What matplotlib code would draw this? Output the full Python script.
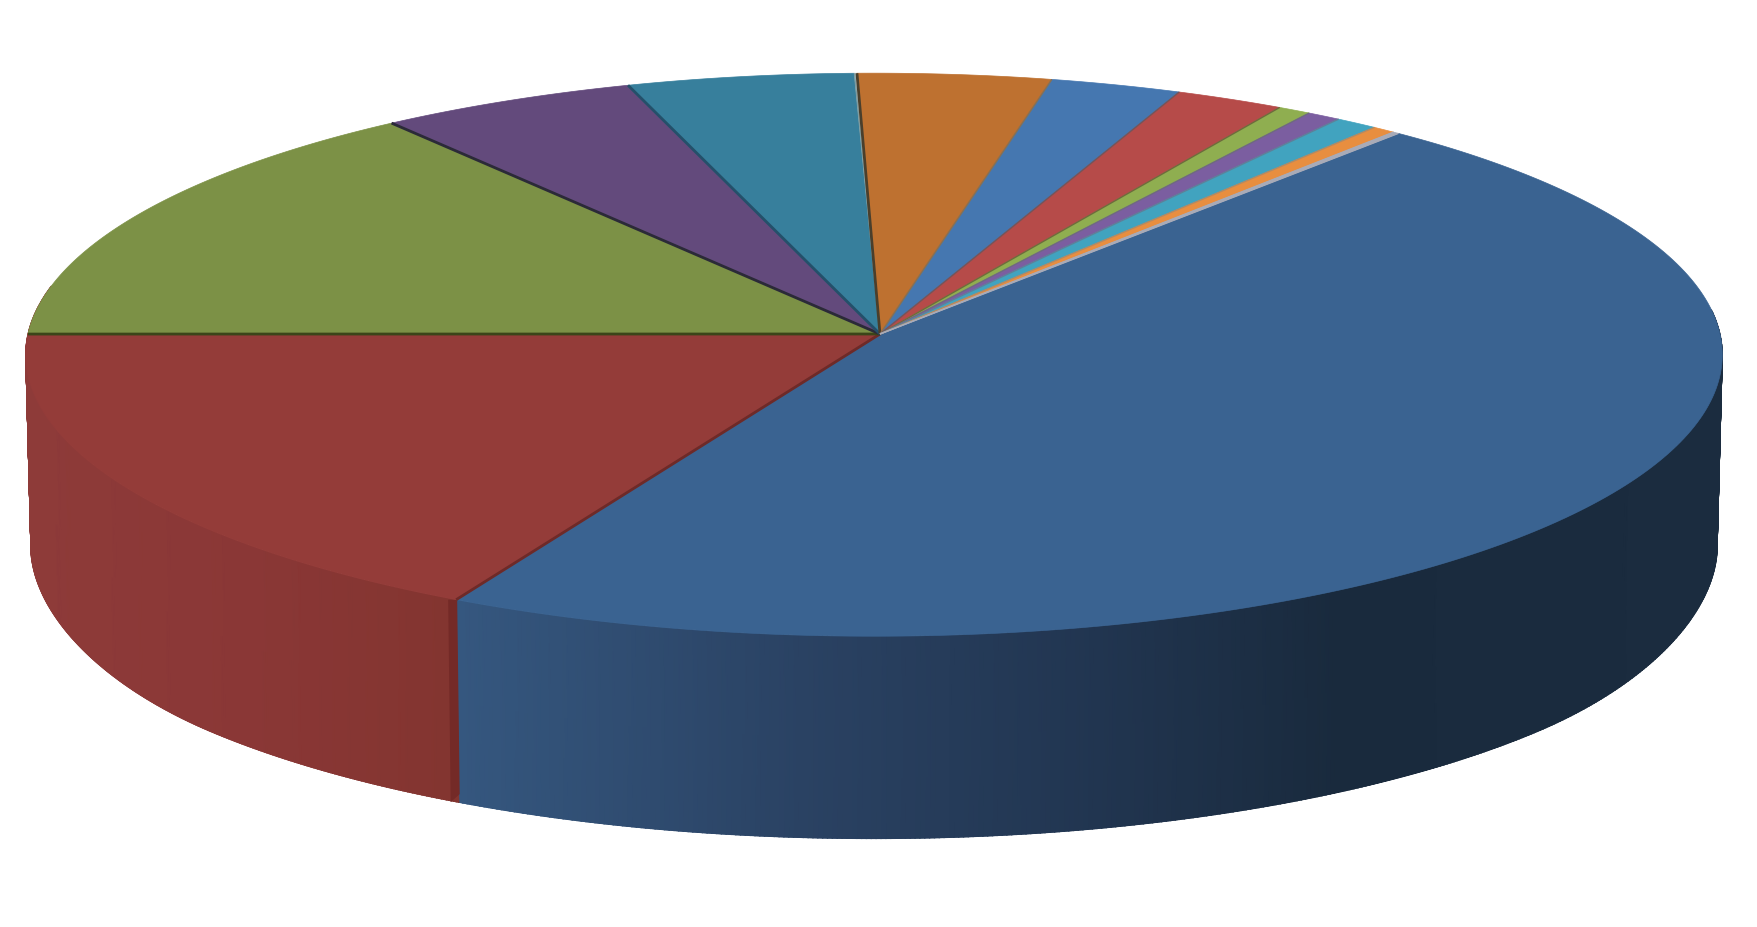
import numpy as np
import matplotlib
matplotlib.use('Agg')
import matplotlib.pyplot as plt
from matplotlib.colors import LinearSegmentedColormap, Normalize

# share of each slice in percent, clockwise from the thin grey one's end
shares = [46.29, 17.36, 14.69, 5.28, 4.64, 0.05, 3.96, 2.68, 2.22, 0.68, 0.69, 0.87, 0.475, 0.12]
top_colors = ['#3a6391', '#943c39', '#7c9146', '#634a7c', '#377f9c', '#b9cdd0', '#be7130',
              '#4577b0', '#b64b49', '#8fae50', '#7b5ea0', '#41a3bf', '#e88e3f', '#a8abb8']
edge_colors = ['#6e2a28', '#3b4519', '#2b2a38', '#24506a', '#7f9ca0', '#4a3f2c', '#8a7050',
               '#74555a', '#6f6a3c', '#6f6a80', '#5f7f99', '#b08a66', '#a8abb8', '#a8abb8']

# colours of the side wall along x
red_x = [30, 250, 450]
red_wall = ['#8e3b39', '#8a3736', '#833530']
blue_x = [458, 800, 1100, 1340, 1723]
blue_wall = ['#35577f', '#2a4263', '#213550', '#192a3d', '#1b2c3f']

start_angle = 40.86
apex = (880, 334)


def project(t, scale=1.0, drop=0.0):
    ## perspective view of the rim, t is degrees clockwise from the back
    t = np.radians(t)
    x, y = np.sin(t), np.cos(t)
    w = 1 + 0.0735 * y
    px = 874 + scale * 846 * x / w
    py = apex[1] + drop - scale * 280 * y / w
    if drop:
        ##the lower rim turns up faster near both sides
        py = py - 14 * (np.clip(np.abs(x) - 0.75, 0, None) / 0.25) ** 2
    return px, py


def draw_wall(ax, t0, t1, xs, cols):
    ts = np.linspace(t0, t1, 400)
    xa, ya = project(ts)
    xb, yb = project(ts, 0.994, 204)
    X = np.vstack([xa, xb])
    Y = np.vstack([ya, yb])
    stops = [(v - xs[0]) / (xs[-1] - xs[0]) for v in xs]
    cmap = LinearSegmentedColormap.from_list('wall', list(zip(stops, cols)))
    norm = Normalize(xs[0], xs[-1])
    ax.pcolormesh(X, Y, X, cmap=cmap, norm=norm, shading='gouraud', zorder=1)
    ##smooth the lower rim
    for i in range(0, len(ts) - 1):
        ax.plot(xb[i:i + 2], yb[i:i + 2], color=cmap(norm(xb[i])), lw=1.0, zorder=1)


def main():
    fig = plt.figure(figsize=(17.57, 9.27), dpi=100)
    ax = fig.add_axes([0, 0, 1, 1])
    ax.set_xlim(0, 1757)
    ax.set_ylim(927, 0)
    ax.axis('off')

    bounds = start_angle + np.cumsum([0] + shares) * 360 / sum(shares)

    ##side wall, blue slice then red slice
    draw_wall(ax, 85, bounds[1], blue_x, blue_wall)
    draw_wall(ax, bounds[1], 280, red_x, red_wall)

    ##cut face at the blue and red boundary
    xa, ya = project(bounds[1])
    xb, yb = project(bounds[1], 0.994, 204)
    ax.fill([xa - 8, xa + 1, xb + 1, xb - 8], [ya, ya, yb - 8, yb], color='#742a27', lw=0, zorder=2)

    ##top of the pie
    for i in range(len(shares)):
        ts = np.linspace(bounds[i], bounds[i + 1], 200)
        px, py = project(ts)
        ax.fill(np.r_[apex[0], px], np.r_[apex[1], py], color=top_colors[i], lw=0.5, zorder=3)

    ##lines between the slices
    for i in range(len(shares)):
        px, py = project(bounds[i + 1])
        lw = 2.0 if i in (0, 1, 2, 3, 5) else 1.0
        ax.plot([apex[0], px], [apex[1], py], color=edge_colors[i], lw=lw, zorder=4, solid_capstyle='butt')

    fig.savefig('out.png', dpi=100, facecolor='white')


main()
